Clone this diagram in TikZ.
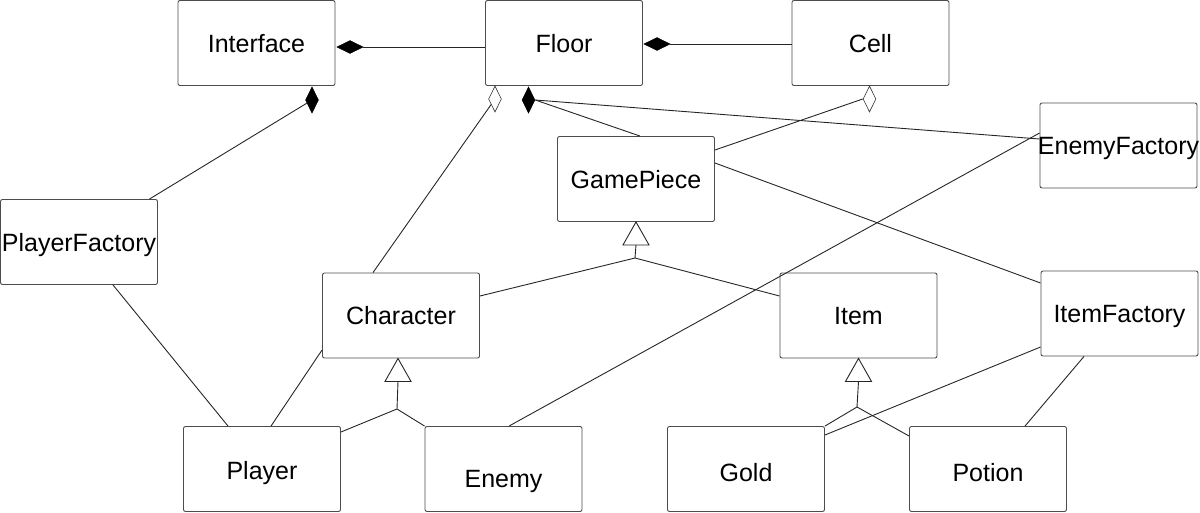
\documentclass[tikz,border=0pt]{standalone}
\usepackage{fontspec}
\setmainfont{Liberation Sans}
\usetikzlibrary{shapes.geometric}
\begin{document}
\begin{tikzpicture}[x=1pt,y=-1pt,
  cls/.style={draw=black!70, line width=0.9pt, rounded corners=2pt, minimum width=157pt, minimum height=85pt, inner sep=0pt, font=\fontsize{25}{30}\selectfont, text height=18pt, text depth=0pt},
  conn/.style={draw=black!85, line width=0.9pt},
  fdia/.style={diamond, draw=black, fill=black, line width=0.6pt, inner sep=0pt, minimum width=13pt, minimum height=26pt},
  fdiah/.style={fdia, minimum width=26pt, minimum height=13pt},
  hdia/.style={fdia, fill=white, draw=black!80},
  tri/.style={draw=black!85, fill=white, line width=0.9pt}
]
\useasboundingbox (0,0) rectangle (1200,512);

\node[cls] (interface) at (256.5,43) {Interface};
\node[cls] (floor) at (564,43) {Floor};
\node[cls] (cell) at (870.5,43) {Cell};
\node[cls] (efac) at (1118.5,145.5) {\makebox[0pt]{EnemyFactory}};
\node[cls] (gp) at (636,179) {GamePiece};
\node[cls] (pfac) at (79,242) {\makebox[0pt]{PlayerFactory}};
\node[cls] (char) at (401,315.5) {Character};
\node[cls] (item) at (858.5,315.5) {Item};
\node[cls] (ifac) at (1119.5,313.5) {ItemFactory};
\node[cls, text height=20pt] (player) at (262,469) {Player};
\node[cls, text height=36pt] (enemy) at (503.5,469) {Enemy};
\node[cls, text height=25pt] (gold) at (746,469) {Gold};
\node[cls, text height=25pt] (potion) at (988,469) {Potion};

\node[fdiah] (d1) at (350,47) {};
\node[fdiah] (d2) at (657,44) {};
\node[fdia] (d3) at (312,100) {};
\node[hdia] (d4) at (495,99) {};
\node[fdia] (d5) at (528.5,100) {};
\node[hdia] (d6) at (869.5,99) {};

\coordinate (j1) at (635,258);
\coordinate (j2) at (397,409);
\coordinate (j3) at (857,407);

\draw[conn] (d1.east) -- (d1 -| floor.west);
\draw[conn] (d2.east) -- (d2 -| cell.west);
\draw[conn] (pfac) -- (d3);
\draw[conn] ([xshift=-28pt]char.north) -- (d4);
\draw[conn] (d5.east) -- ([xshift=4pt]gp.north);
\draw[conn] (d5.east) -- ([yshift=6.5pt]efac.west);
\draw[conn] (d6.west) -- ([yshift=29pt]gp.east);
\draw[conn] ([yshift=16pt]gp.east) -- ([yshift=30.5pt]ifac.west);
\draw[conn] ([xshift=5.5pt]enemy.north) -- ([yshift=12.5pt]efac.west);
\draw[conn] ([xshift=34pt]pfac.south) -- ([xshift=-34pt]player.north);
\draw[conn] ([xshift=9pt]player.north) -- ([yshift=-34.5pt]char.west);
\draw[conn] ([yshift=19.5pt]char.east) -- (j1) -- ([yshift=19.5pt]item.west);
\draw[conn] ([yshift=37pt]player.east) -- (j2) -- (enemy.north west);
\draw[conn] (gold.north east) -- (j3) -- ([yshift=33pt]potion.west);
\draw[conn] ([yshift=-33.5pt]ifac.west) -- ([yshift=34pt]gold.east);
\draw[conn] ([xshift=-35.5pt]ifac.south) -- ([xshift=37pt]potion.north);

% generalization stems and hollow triangles
\draw[conn] ([yshift=-23pt]gp.south) -- (j1);
\draw[conn] ([xshift=-3pt,yshift=-23pt]char.south) -- (j2);
\draw[conn] ([yshift=-23pt]item.south) -- (j3);
\draw[tri] (gp.south) -- ++(13,23) -- ++(-26,0) -- cycle;
\draw[tri] ([xshift=-3pt]char.south) -- ++(13,23) -- ++(-26,0) -- cycle;
\draw[tri] (item.south) -- ++(13,23) -- ++(-26,0) -- cycle;
\end{tikzpicture}
\end{document}
